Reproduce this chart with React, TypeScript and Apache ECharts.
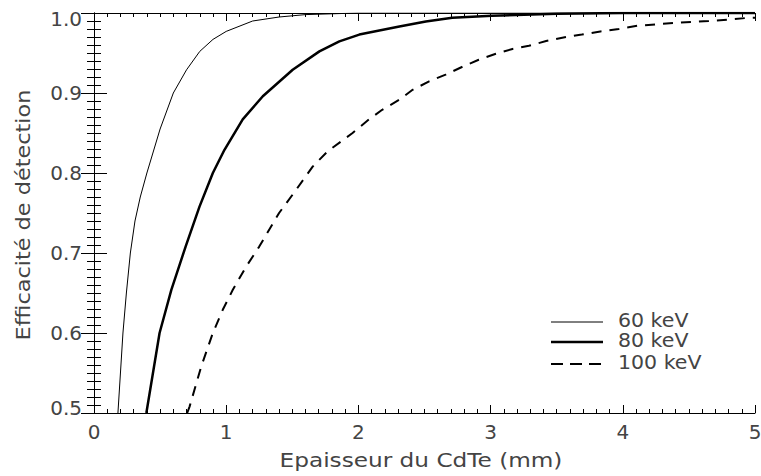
import React, { useEffect, useRef } from "react";
import * as echarts from "echarts";

const xTicks = [0, 1, 2, 3, 4, 5];
const yTicks = [0.5, 0.6, 0.7, 0.8, 0.9, 1.0];

const xTitle = "Epaisseur du CdTe (mm)";
const yTitle = "Efficacité de détection";
const seriesNames = ["60 keV", "80 keV", "100 keV"];

const thick60 = [0.181, 0.2, 0.219, 0.245, 0.275, 0.31, 0.35, 0.4, 0.5, 0.6, 0.7, 0.8, 0.9, 1.0, 1.2, 1.4, 1.6, 2.0, 3.0, 4.0, 5.0];
const eff60 = [0.5, 0.55, 0.6, 0.65, 0.7, 0.74, 0.77, 0.8, 0.855, 0.9, 0.929, 0.952, 0.967, 0.977, 0.99, 0.995, 0.998, 1.0, 1.0, 1.0, 1.0];

const thick80 = [0.396, 0.446, 0.496, 0.585, 0.693, 0.798, 0.899, 0.987, 1.125, 1.277, 1.503, 1.705, 1.856, 2.007, 2.158, 2.31, 2.51, 2.71, 3.01, 3.5, 4.0, 5.0];
const eff80 = [0.5, 0.55, 0.6, 0.654, 0.708, 0.758, 0.8, 0.829, 0.867, 0.896, 0.929, 0.952, 0.9645, 0.973, 0.978, 0.983, 0.9895, 0.994, 0.9966, 0.999, 1.0, 1.0];

const thick100 = [0.705, 0.723, 0.811, 0.899, 0.974, 1.05, 1.151, 1.25, 1.4, 1.529, 1.654, 1.767, 1.956, 2.08, 2.18, 2.31, 2.41, 2.535, 2.66, 2.79, 2.91, 3.04, 3.165, 3.29, 3.42, 3.57, 3.69, 3.83, 3.97, 4.11, 4.25, 4.39, 4.52, 4.65, 4.79, 4.93, 5.0];
const eff100 = [0.5, 0.508, 0.558, 0.6, 0.629, 0.654, 0.683, 0.708, 0.75, 0.779, 0.808, 0.827, 0.85, 0.867, 0.879, 0.8916, 0.904, 0.9145, 0.923, 0.933, 0.9416, 0.949, 0.955, 0.959, 0.965, 0.97, 0.973, 0.977, 0.98, 0.984, 0.9858, 0.9875, 0.9888, 0.99, 0.9916, 0.9937, 0.994];

const FONT = "DejaVu Sans";
const TXT = "#444";

function pairs(xs: number[], ys: number[]) {
  return xs.map((x, i) => [x, ys[i]]);
}

export default function App() {
  const ref = useRef<HTMLDivElement>(null);
  useEffect(() => {
    if (!ref.current) return;
    const chart = echarts.init(ref.current, undefined, { renderer: "svg" });
    const axisLine = { show: true, lineStyle: { color: "#000", width: 1 } };
    const xCommon = {
      type: "value" as const,
      min: xTicks[0],
      max: xTicks[xTicks.length - 1],
      interval: 1,
      splitLine: { show: false },
      axisLine,
      axisTick: { show: true, inside: true, length: 8, lineStyle: { color: "#000" } },
      minorTick: { show: true, splitNumber: 10, length: 4, lineStyle: { color: "#000" } },
    };
    const yCommon = {
      type: "value" as const,
      min: yTicks[0],
      max: yTicks[yTicks.length - 1],
      interval: 0.1,
      splitLine: { show: false },
      axisLine,
      axisTick: { show: true, inside: true, length: 13, lineStyle: { color: "#000" } },
      minorTick: { show: true, splitNumber: 10, length: 7, lineStyle: { color: "#000" } },
    };
    const legendY = [322, 342, 364];
    const legendStyles = [
      { lineWidth: 1, lineDash: null as any },
      { lineWidth: 2.5, lineDash: null as any },
      { lineWidth: 2, lineDash: [12, 7] },
    ];
    const graphics: any[] = [];
    seriesNames.forEach((name, i) => {
      graphics.push({
        type: "line",
        shape: { x1: 551, y1: legendY[i], x2: 603, y2: legendY[i] },
        style: { stroke: "#000", lineWidth: legendStyles[i].lineWidth, lineDash: legendStyles[i].lineDash },
        z: 100,
      });
      graphics.push({
        type: "text",
        x: 618,
        y: legendY[i] - 1,
        scaleX: 1.08,
        style: { text: name, fontFamily: FONT, fontSize: 19, fill: TXT, verticalAlign: "middle", align: "left" },
        z: 100,
      });
    });
    graphics.push({
      type: "text",
      x: 421,
      y: 460,
      scaleX: 1.16,
      style: { text: xTitle, fontFamily: FONT, fontSize: 20, fill: TXT, verticalAlign: "middle", align: "center" },
    });
    graphics.push({
      type: "text",
      x: 23,
      y: 215,
      rotation: Math.PI / 2,
      scaleX: 1.12,
      style: { text: yTitle, fontFamily: FONT, fontSize: 20, fill: TXT, verticalAlign: "middle", align: "center" },
    });
    chart.setOption({
      animation: false,
      backgroundColor: "#fff",
      grid: { left: 94, right: 6, top: 13, bottom: 63, outerBoundsMode: "none" },
      xAxis: [
        {
          ...xCommon,
          position: "bottom",
          axisLabel: { show: true, margin: 9, fontFamily: FONT, fontSize: 20, color: TXT },
        },
        { ...xCommon, position: "top", axisLabel: { show: false } },
      ],
      yAxis: [
        {
          ...yCommon,
          position: "left",
          axisLabel: {
            show: true,
            margin: 12,
            fontFamily: FONT,
            fontSize: 20,
            color: TXT,
            formatter: (v: number) => {
              const s = v.toFixed(1);
              if (Math.abs(v - 1) < 1e-9) return "{top|" + s + "}";
              if (Math.abs(v - 0.5) < 1e-9) return "{bot|" + s + "}";
              return s;
            },
            rich: {
              top: { fontFamily: FONT, fontSize: 20, color: TXT, padding: [12, 0, 0, 0] },
              bot: { fontFamily: FONT, fontSize: 20, color: TXT, padding: [0, 0, 10, 0] },
            },
          },
        },
        { ...yCommon, position: "right", axisLabel: { show: false } },
      ],
      series: [
        {
          name: seriesNames[0],
          type: "line",
          data: pairs(thick60, eff60),
          showSymbol: false,
          lineStyle: { color: "#000", width: 1 },
          clip: true,
        },
        {
          name: seriesNames[1],
          type: "line",
          data: pairs(thick80, eff80),
          showSymbol: false,
          lineStyle: { color: "#000", width: 2.5 },
          clip: true,
        },
        {
          name: seriesNames[2],
          type: "line",
          data: pairs(thick100, eff100),
          showSymbol: false,
          lineStyle: { color: "#000", width: 2, type: [10, 8] },
          clip: true,
        },
      ],
      graphic: graphics,
    });
    return () => chart.dispose();
  }, []);
  return <div ref={ref} style={{ position: "fixed", left: 0, top: 0, width: 761, height: 476 }} />;
}
